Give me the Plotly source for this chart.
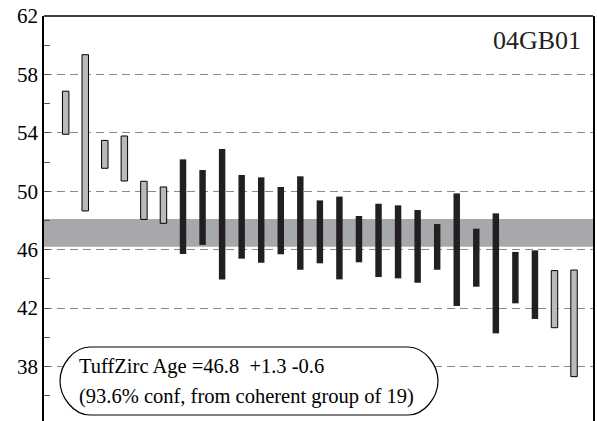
import plotly.graph_objects as go

# Zircon grain ages (Ma): top and bottom of each error bar, in plotted order
grain_top = [56.85, 59.35, 53.48, 53.78, 50.68, 50.29,
             52.18, 51.45, 52.89, 51.11, 50.95, 50.29, 51.02, 49.37, 49.63,
             48.30, 49.14, 49.03, 48.71, 47.75, 49.85, 47.43, 48.48, 45.84,
             45.95, 44.56, 44.60]
grain_bottom = [53.90, 48.65, 51.57, 50.70, 48.07, 47.80,
                45.70, 46.32, 43.96, 45.38, 45.10, 45.68, 44.62, 45.06, 43.96,
                45.13, 44.12, 44.03, 43.73, 44.62, 42.14, 43.46, 40.26, 42.32,
                41.25, 40.65, 37.30]
# True = grain belongs to the coherent group used for the age
in_group = [False, False, False, False, False, False,
            True, True, True, True, True, True, True, True, True, True,
            True, True, True, True, True, True, True, True, True,
            False, False]

sample_name = "04GB01"
age = 46.8
age_plus = 1.3
age_minus = 0.6
confidence = 93.6
group_size = 19

y_ticks = [38, 42, 46, 50, 54, 58, 62]

W, H = 597, 421
L, R, T, B = 44, 4, 16, 0
X_RANGE = [-0.11, 27.97]
Y_RANGE = [34.26, 62]

SERIF = "Liberation Serif"
GREY_FILL = "#b9babc"
BLACK = "#231f20"
BAND = "#a7a8ab"

idx = list(range(1, len(grain_top) + 1))


def px_to_data(px, py):
    pw = W - L - R
    ph = H - T - B
    x = X_RANGE[0] + (px - L) / pw * (X_RANGE[1] - X_RANGE[0])
    y = Y_RANGE[1] - (py - T) / ph * (Y_RANGE[1] - Y_RANGE[0])
    return x, y


fig = go.Figure()

for flag, fill, line_w, line_c in [(False, GREY_FILL, 1, "black"),
                                   (True, BLACK, 0, BLACK)]:
    xs = [i for i, g in zip(idx, in_group) if g == flag]
    base = [b for b, g in zip(grain_bottom, in_group) if g == flag]
    span = [t - b for t, b, g in zip(grain_top, grain_bottom, in_group) if g == flag]
    fig.add_trace(go.Bar(
        x=xs, y=span, base=base, width=0.33,
        marker=dict(color=fill, line=dict(width=line_w, color=line_c)),
        hoverinfo="skip", showlegend=False,
    ))

# Age band
fig.add_shape(type="rect", xref="paper", yref="y", x0=0, x1=1,
              y0=age - age_minus, y1=age + age_plus,
              fillcolor=BAND, line=dict(width=0), layer="below")

# Top frame line
fig.add_shape(type="line", xref="paper", yref="paper", x0=0, x1=1, y0=1, y1=1,
              line=dict(color="black", width=1.5))

# Rounded result box
bx0, bx1, by0, by1 = 60, 438, 347, 415
rx = 30
ym = (by0 + by1) / 2
pts = {
    "a": px_to_data(bx0 + rx, by0), "b": px_to_data(bx1 - rx, by0),
    "c1": px_to_data(bx1 - rx * 0.45, by0), "c2": px_to_data(bx1, by0 + 18),
    "c": px_to_data(bx1, ym),
    "c3": px_to_data(bx1, by1 - 18), "c4": px_to_data(bx1 - rx * 0.45, by1),
    "d": px_to_data(bx1 - rx, by1), "e": px_to_data(bx0 + rx, by1),
    "c5": px_to_data(bx0 + rx * 0.45, by1), "c6": px_to_data(bx0, by1 - 18),
    "f": px_to_data(bx0, ym),
    "c7": px_to_data(bx0, by0 + 18), "c8": px_to_data(bx0 + rx * 0.45, by0),
}


def p(k):
    return f"{pts[k][0]:.4f},{pts[k][1]:.4f}"


path = (f"M {p('a')} L {p('b')} C {p('c1')} {p('c2')} {p('c')} "
        f"C {p('c3')} {p('c4')} {p('d')} L {p('e')} "
        f"C {p('c5')} {p('c6')} {p('f')} C {p('c7')} {p('c8')} {p('a')} Z")
fig.add_shape(type="path", xref="x", yref="y", path=path,
              fillcolor="white", line=dict(color="black", width=1.2), layer="above")

nb = "\u00a0"
line1 = f"TuffZirc Age ={age:.1f}{nb}{nb}+{age_plus:.1f} -{age_minus:.1f}"
line2 = f"({confidence:.1f}% conf, from coherent group of {group_size})"
x_text, y1 = px_to_data(77, 366)
_, y2 = px_to_data(77, 396)
for txt, yy in [(line1, y1), (line2, y2)]:
    fig.add_annotation(x=x_text, y=yy, xref="x", yref="y", text=txt,
                       showarrow=False, xanchor="left", yanchor="middle",
                       font=dict(family=SERIF, size=20.5, color="black"))

fig.add_annotation(x=1, y=1, xref="paper", yref="paper", text=sample_name,
                   showarrow=False, xanchor="right", yanchor="top",
                   xshift=-10, yshift=-8,
                   font=dict(family=SERIF, size=26, color="#222"))

fig.update_layout(
    width=W, height=H,
    margin=dict(l=L, r=R, t=T, b=B),
    paper_bgcolor="white", plot_bgcolor="white",
    barmode="overlay",
    font=dict(family=SERIF),
    xaxis=dict(range=X_RANGE, showgrid=False, zeroline=False,
               showticklabels=False, ticks="", showline=False),
    yaxis=dict(range=Y_RANGE, tickvals=y_ticks, ticktext=[str(v) for v in y_ticks],
               showgrid=True, gridcolor="#8a8a8a", griddash="8px,5px", gridwidth=1,
               zeroline=False, showline=True, linecolor="black", linewidth=1.5,
               mirror=True, ticks="inside", ticklen=6, tickcolor="#555",
               minor=dict(dtick=2, tick0=36, ticks="inside", ticklen=6,
                          tickcolor="#555", showgrid=False),
               tickfont=dict(family=SERIF, size=21, color="black")),
)

fig.write_html("out.html")
